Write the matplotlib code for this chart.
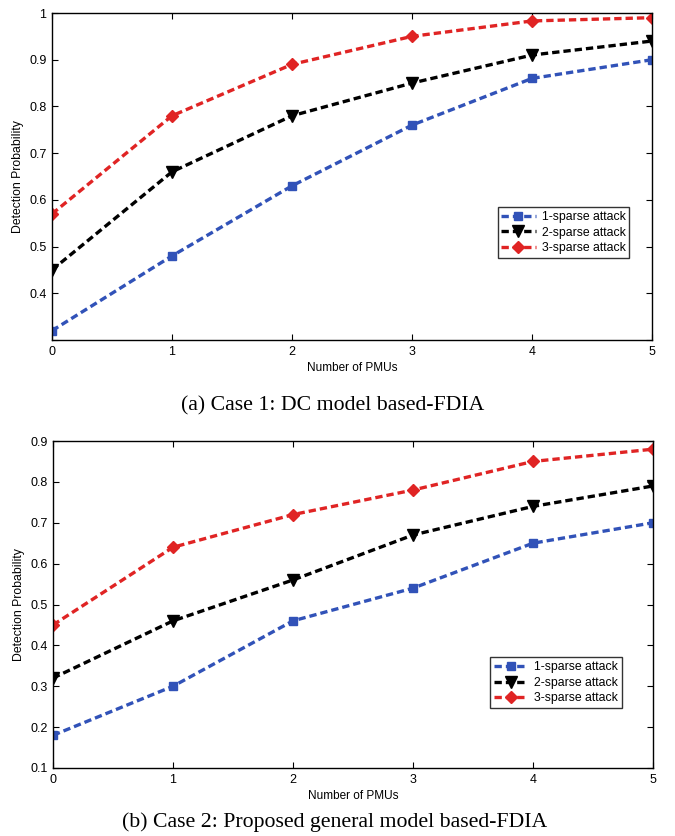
import matplotlib
matplotlib.use("Agg")
from matplotlib import pyplot as plt

pmus = [0, 1, 2, 3, 4, 5]

# Case 1: DC model based-FDIA
case1_sparse1 = [0.32, 0.48, 0.63, 0.76, 0.86, 0.90]
case1_sparse2 = [0.45, 0.66, 0.78, 0.85, 0.91, 0.94]
case1_sparse3 = [0.57, 0.78, 0.89, 0.95, 0.983, 0.99]

# Case 2: proposed general model based-FDIA
case2_sparse1 = [0.18, 0.30, 0.46, 0.54, 0.65, 0.70]
case2_sparse2 = [0.32, 0.46, 0.56, 0.67, 0.74, 0.79]
case2_sparse3 = [0.45, 0.64, 0.72, 0.78, 0.85, 0.88]

series_labels = ["1-sparse attack", "2-sparse attack", "3-sparse attack"]
colors = ["#3152b8", "#000000", "#e02424"]
markers = ["s", "v", "D"]
marker_sizes = [6, 9, 6]

plt.rcParams["font.family"] = ["Liberation Sans", "DejaVu Sans"]

fig = plt.figure(figsize=(6.75, 8.36), dpi=100)


def draw_case(ax, values, ylim, yticks, ylabels, legend_anchor):
    for vals, lab, c, m, ms in zip(values, series_labels, colors, markers, marker_sizes):
        ax.plot(pmus, vals, linestyle="--", color=c, linewidth=2.4,
                marker=m, markersize=ms, markerfacecolor=c, markeredgecolor=c,
                dashes=(2.2, 1.2), label=lab)
    ax.set_xlim(0, 5)
    ax.set_ylim(*ylim)
    ax.set_xticks(pmus)
    ax.set_yticks(yticks)
    ax.set_yticklabels(ylabels)
    ax.tick_params(direction="in", top=True, right=True, labelsize=9, length=4, width=0.8, pad=4)
    for s in ax.spines.values():
        s.set_linewidth(1.0)
    ax.set_xlabel("Number of PMUs", fontsize=8.5, labelpad=3)
    ax.set_ylabel("Detection Probability", fontsize=8.8, labelpad=4)
    leg = ax.legend(loc="lower right", bbox_to_anchor=legend_anchor, fontsize=8.8,
                    frameon=True, fancybox=False, edgecolor="black",
                    handlelength=2.8, borderpad=0.3, labelspacing=0.3,
                    handletextpad=0.5, borderaxespad=0)
    leg.get_frame().set_linewidth(1.0)


ax1 = fig.add_axes([52 / 675, (836 - 340) / 836, 600 / 675, 327 / 836])
draw_case(ax1, [case1_sparse1, case1_sparse2, case1_sparse3], (0.3, 1.0),
          [0.3, 0.4, 0.5, 0.6, 0.7, 0.8, 0.9, 1.0],
          ["", "0.4", "0.5", "0.6", "0.7", "0.8", "0.9", "1"],
          (0.962, 0.251))

ax2 = fig.add_axes([53 / 675, (836 - 768) / 836, 600 / 675, 327 / 836])
draw_case(ax2, [case2_sparse1, case2_sparse2, case2_sparse3], (0.1, 0.9),
          [0.1, 0.2, 0.3, 0.4, 0.5, 0.6, 0.7, 0.8, 0.9],
          ["0.1", "0.2", "0.3", "0.4", "0.5", "0.6", "0.7", "0.8", "0.9"],
          (0.948, 0.183))

caption_font = dict(fontsize=15.7, ha="center", va="center",
                    family=["Liberation Serif", "DejaVu Serif"])
fig.text(333 / 675, 1 - 406 / 836, "(a) Case 1: DC model based-FDIA", **caption_font)
fig.text(335 / 675, 1 - 822 / 836, "(b) Case 2: Proposed general model based-FDIA", **caption_font)

fig.savefig("out.png", dpi=100)
